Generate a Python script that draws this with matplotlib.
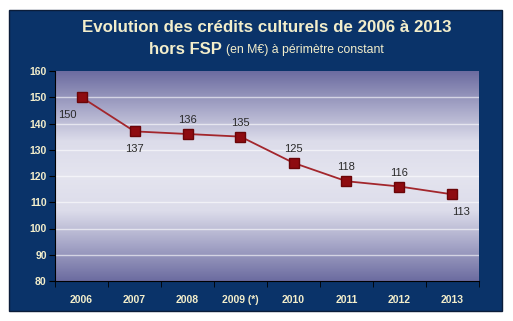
import numpy as np
import matplotlib.pyplot as plt
from matplotlib.patches import Rectangle
from matplotlib.colors import LinearSegmentedColormap

years = ["2006", "2007", "2008", "2009 (*)", "2010", "2011", "2012", "2013"]
credits = [150, 137, 136, 135, 125, 118, 116, 113]
label_offsets = [(-10, -13), (0, -13), (0, 10), (0, 10), (0, 10), (0, 10), (0, 10), (6, -13)]
yticks = [80, 90, 100, 110, 120, 130, 140, 150, 160]

plt.rcParams["font.family"] = ["Liberation Sans", "DejaVu Sans"]

navy = "#0a3369"
cream = "#f3eecb"

fig = plt.figure(figsize=(5.13, 3.21), dpi=100)
fig.patch.set_facecolor("white")
fig.patches.append(Rectangle((9 / 513, 1 - 311 / 321), 493 / 513, 301 / 321,
                             transform=fig.transFigure, facecolor=navy,
                             edgecolor="#0b1d3a", linewidth=1, zorder=-5))

ax = fig.add_axes([55 / 513, 1 - 281 / 321, 424 / 513, 210 / 321])
ax.set_xlim(-0.5, len(years) - 0.5)
ax.set_ylim(80, 160)

# vertical gradient behind the plot: darker at top and bottom, pale in the middle
grad = LinearSegmentedColormap.from_list(
    "bg", ["#6c6ca0", "#a4a4c6", "#dcdcea", "#e4e4ef", "#dcdcea", "#a4a4c6", "#6c6ca0"])
g = np.linspace(0, 1, 256).reshape(-1, 1)
ax.imshow(g, cmap=grad, aspect="auto", extent=(-0.5, len(years) - 0.5, 80, 160),
          zorder=0)

for y in yticks[1:-1]:
    ax.axhline(y, color="white", lw=1.0, alpha=0.6, zorder=1)

x = np.arange(len(years))
ax.plot(x, credits, color="#a3262c", lw=1.3, zorder=2)
ax.plot(x, credits, ls="none", marker="s", ms=6.5, color="#8e0b10",
        markeredgecolor="#6a0508", zorder=3)

for xi, v, (dx, dy) in zip(x, credits, label_offsets):
    ax.annotate(str(v), (xi, v), xytext=(dx, dy), textcoords="offset points",
                ha="center", va="center", fontsize=8, color="#2a2a2a")

ax.set_xticks(x)
ax.set_xticklabels(years)
ax.set_xticks(np.arange(-0.5, len(years)), minor=True)
ax.set_yticks(yticks)
ax.tick_params(axis="x", which="major", length=0, pad=10)
ax.tick_params(axis="x", which="minor", length=4, color="black")
ax.tick_params(axis="y", length=4, color="black", pad=2)
for lbl in ax.get_xticklabels() + ax.get_yticklabels():
    lbl.set_color(cream)
    lbl.set_fontweight("bold")
    lbl.set_fontsize(7.5)
for side in ["top", "right"]:
    ax.spines[side].set_visible(False)
ax.spines["left"].set_color("black")
ax.spines["bottom"].set_color("black")

fig.text(0.52, 1 - 27 / 321, "Evolution des crédits culturels de 2006 à 2013",
         ha="center", va="center", color=cream, fontsize=12.2, fontweight="bold")
fig.text(0.433, 1 - 50 / 321, "hors FSP", ha="right", va="center", color=cream,
         fontsize=12, fontweight="bold")
fig.text(0.44, 1 - 50 / 321, "(en M€) à périmètre constant", ha="left",
         va="center", color=cream, fontsize=8.8)

fig.savefig("out.png", dpi=100, facecolor=fig.get_facecolor())
